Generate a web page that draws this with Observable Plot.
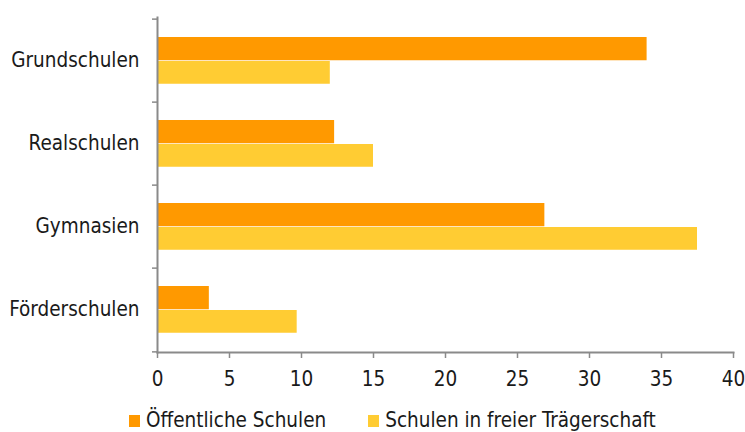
<!DOCTYPE html>
<html>
<head>
<meta charset="utf-8">
<script src="https://cdn.jsdelivr.net/npm/d3@7"></script>
<script src="https://cdn.jsdelivr.net/npm/@observablehq/plot@0.6"></script>
<style>
  html, body { margin: 0; padding: 0; background: #fff; }
  body { width: 745px; height: 432px; overflow: hidden; font-family: "DejaVu Sans Condensed", sans-serif; color: #1a1a1a; }
  #legend { display: flex; margin-left: 129px; margin-top: 8px; font-size: 20.5px; line-height: 24px; }
  .item { display: flex; align-items: center; }
  .sw { width: 11px; height: 12px; margin-right: 6px; margin-top: 2px; }
</style>
</head>
<body>
<div id="chart"></div>
<div id="legend"></div>
<script>
const categories = ["Grundschulen", "Realschulen", "Gymnasien", "Förderschulen"];
const seriesNames = ["Öffentliche Schulen", "Schulen in freier Trägerschaft"];
const oeffentlich = [34.0, 12.3, 26.9, 3.6];
const frei = [12.0, 15.0, 37.5, 9.7];
const xTicks = [0, 5, 10, 15, 20, 25, 30, 35, 40];
const colors = ["#FF9900", "#FFCC33"];

const rowsA = categories.map((c, i) => ({cat: c, v: oeffentlich[i]}));
const rowsB = categories.map((c, i) => ({cat: c, v: frei[i]}));

const H = 400, mTop = 17, mBottom = 48;
const band = (H - mTop - mBottom) / categories.length;
const axisColor = "#8a8a8a";
const FONT = "'DejaVu Sans Condensed', sans-serif";

const chart = Plot.plot({
  width: 745,
  height: H,
  marginLeft: 157,
  marginRight: 12,
  marginTop: mTop,
  marginBottom: mBottom,
  style: {fontFamily: FONT, fontSize: "20.5px", color: "#1a1a1a", overflow: "visible"},
  x: {domain: [0, 40], ticks: xTicks},
  y: {domain: categories, padding: 0},
  marks: [
    Plot.barX(rowsA, {x: "v", y: "cat", fill: colors[0], insetTop: 18, insetBottom: band - 42}),
    Plot.barX(rowsB, {x: "v", y: "cat", fill: colors[1], insetTop: 42, insetBottom: band - 42 - 23.5}),
    Plot.axisX({ticks: xTicks, tickSize: 6, stroke: axisColor, strokeWidth: 1.5, tickPadding: 13, label: null, fontSize: 20.5, fill: "#1a1a1a"}),
    Plot.axisY({tickSize: 0, tickPadding: 18, label: null, fontSize: 20.5, fill: "#1a1a1a", dy: -1}),
    Plot.axisY({tickSize: 5, tickFormat: () => "", label: null, stroke: axisColor, strokeWidth: 1.5, dy: -band / 2}),
    Plot.axisY({ticks: [categories[categories.length - 1]], tickSize: 5, tickFormat: () => "", label: null, stroke: axisColor, strokeWidth: 1.5, dy: band / 2}),
    Plot.frame({anchor: "left", stroke: axisColor, strokeWidth: 2}),
    Plot.frame({anchor: "bottom", stroke: axisColor, strokeWidth: 2})
  ]
});
document.getElementById("chart").appendChild(chart);

const legend = document.getElementById("legend");
seriesNames.forEach((s, i) => {
  const it = document.createElement("div");
  it.className = "item";
  it.style.marginRight = i === 0 ? "42px" : "0";
  const sw = document.createElement("div");
  sw.className = "sw";
  sw.style.background = colors[i];
  const t = document.createElement("span");
  t.textContent = s;
  it.appendChild(sw);
  it.appendChild(t);
  legend.appendChild(it);
});
</script>
</body>
</html>
